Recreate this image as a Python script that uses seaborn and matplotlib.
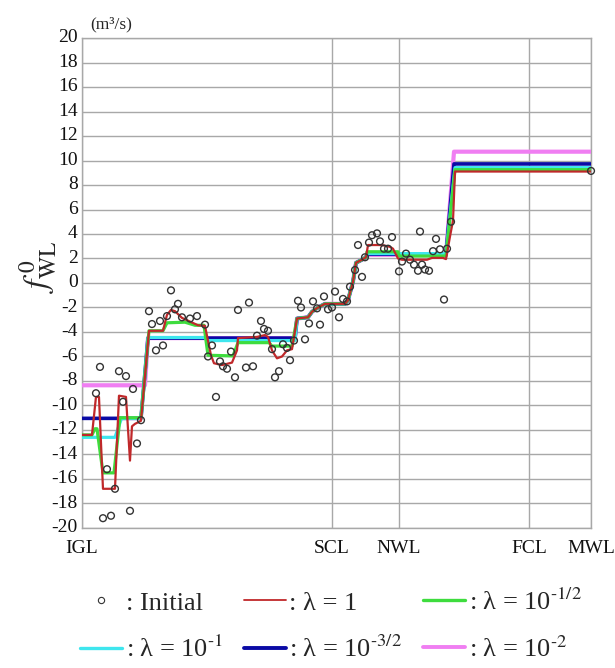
import numpy as np
import pandas as pd
import matplotlib
matplotlib.use("Agg")
import matplotlib.pyplot as plt
import matplotlib.transforms as mtransforms
from matplotlib.lines import Line2D
import seaborn as sns

# estações (distância ao longo do canal, unidade arbitrária)
stations = ["IGL", "SCL", "NWL", "FCL", "MWL"]
station_x = [0.0, 25.0, 31.7, 44.7, 50.9]

# pontos iniciais
init_x = [1.4, 1.8, 2.1, 2.5, 2.9, 3.3, 3.7, 4.1, 4.4, 4.8, 5.1, 5.5, 5.9, 6.7, 7.0,
          7.4, 7.8, 8.1, 8.5, 8.9, 9.3, 9.6, 10.0, 10.8, 11.5, 12.3, 12.6, 13.0, 13.4,
          13.8, 14.1, 14.5, 14.9, 15.3, 15.6, 16.4, 16.7, 17.1, 17.5, 17.9, 18.2, 18.6,
          19.0, 19.3, 19.7, 20.1, 20.5, 20.8, 21.2, 21.6, 21.9, 22.3, 22.7, 23.1, 23.5,
          23.8, 24.2, 24.6, 25.0, 25.3, 25.7, 26.1, 26.5, 26.8, 27.3, 27.6, 28.0, 28.3,
          28.7, 29.0, 29.5, 29.8, 30.2, 30.6, 31.0, 31.7, 32.0, 32.4, 32.8, 33.2, 33.6,
          33.8, 34.0, 34.3, 34.7, 35.1, 35.4, 35.8, 36.2, 36.5, 36.9, 50.9]
init_y = [-9.0, -6.85, -19.2, -15.2, -19.0, -16.8, -7.2, -9.7, -7.6, -18.6, -8.65, -13.1,
          -11.2, -2.3, -3.35, -5.5, -3.1, -5.1, -2.7, -0.6, -2.15, -1.7, -2.8, -2.9, -2.7,
          -3.4, -6.0, -5.1, -9.3, -6.4, -6.8, -7.0, -5.6, -7.7, -2.2, -6.9, -1.6, -6.8,
          -4.3, -3.1, -3.75, -3.9, -5.4, -7.7, -7.2, -5.0, -5.3, -6.3, -4.7, -1.45, -2.0,
          -4.6, -3.3, -1.5, -2.07, -3.4, -1.1, -2.15, -2.0, -0.7, -2.8, -1.3, -1.5, -0.3,
          1.06, 3.1, 0.5, 2.1, 3.3, 3.9, 4.05, 3.4, 2.8, 2.8, 3.75, 0.95, 1.75, 2.4, 1.9,
          1.5, 1.0, 4.2, 1.5, 1.1, 1.0, 2.6, 3.6, 2.75, -1.35, 2.8, 5.0, 9.15]

# trecho comum a todas as curvas
mid_x = [21.5, 22.6, 23.0, 23.5, 24.3, 26.3, 26.6, 27.1, 27.4, 28.0, 28.4]
mid_y = [-2.9, -2.8, -2.35, -2.05, -1.7, -1.7, -1.4, 0.1, 1.65, 1.9, 2.1]

# lambda = 1
red_head_x = [0, 1.0, 1.4, 1.7, 2.1, 3.3, 3.7, 4.4, 4.8, 5.0, 5.3, 5.9, 6.7, 8.1, 8.5,
              8.9, 9.3, 10.0, 10.8, 11.6, 12.3, 12.9, 13.2, 14.0, 15.0, 15.5, 15.6, 17.5,
              18.3, 18.6, 19.0, 19.5, 20.0, 20.5, 21.0]
red_head_y = [-12.4, -12.4, -9.3, -9.3, -16.8, -16.8, -9.2, -9.3, -14.5, -11.7, -11.5,
              -11.25, -3.9, -3.9, -2.6, -2.2, -2.3, -2.85, -3.15, -3.45, -3.5, -5.9, -6.55,
              -6.7, -6.5, -5.5, -4.5, -4.4, -4.25, -4.4, -5.5, -6.15, -6.0, -5.5, -5.4]
red_tail_x = [28.6, 30.0, 30.8, 31.1, 31.6, 32.0, 34.5, 35.0, 36.1, 36.4, 36.8, 37.1, 37.3, 50.9]
red_tail_y = [3.1, 3.1, 2.95, 2.8, 2.0, 1.9, 1.9, 2.05, 2.05, 1.95, 3.8, 5.1, 9.1, 9.1]

# lambda = 10^-1/2
green_head_x = [0, 1.0, 1.3, 1.5, 2.1, 3.2, 3.8, 5.9, 6.7, 8.1, 8.5, 10.3, 11.3, 12.2,
                12.6, 15.1, 15.6, 18.7, 19.0, 21.0]
green_head_y = [-12.4, -12.4, -11.9, -11.9, -15.5, -15.5, -11.0, -11.0, -3.9, -3.9, -3.25,
                -3.2, -3.45, -3.45, -5.9, -5.95, -4.87, -4.87, -5.15, -5.15]
green_tail_x = [28.5, 31.6, 31.7, 36.4, 37.3, 50.9]
green_tail_y = [2.55, 2.55, 2.2, 2.2, 9.25, 9.25]

# lambda = 10^-1
cyan_head_x = [0, 3.3, 3.95, 5.9, 6.6, 12.3, 12.5, 21.3]
cyan_head_y = [-12.6, -12.6, -11.05, -11.05, -4.45, -4.45, -4.7, -4.7]
cyan_tail_x = [28.5, 36.4, 37.3, 50.9]
cyan_tail_y = [2.4, 2.4, 9.42, 9.42]

# lambda = 10^-3/2
blue_head_x = [0, 5.9, 6.6, 21.3]
blue_head_y = [-11.05, -11.05, -4.5, -4.5]
blue_tail_x = [28.5, 36.4, 37.2, 50.9]
blue_tail_y = [2.35, 2.35, 9.72, 9.72]

# lambda = 10^-2
pink_head_x = [0, 6.3, 6.6, 21.3]
pink_head_y = [-8.35, -8.35, -4.5, -4.5]
pink_tail_x = [28.5, 36.4, 37.2, 50.9]
pink_tail_y = [2.3, 2.3, 10.72, 10.72]

cor_red, cor_green, cor_cyan = "#c0282a", "#3edc3e", "#3ee6ee"
cor_blue, cor_pink = "#0a0aa5", "#f07ef2"


def serie(hx, hy, tx, ty):
    return pd.DataFrame({"x": hx + mid_x + tx, "y": hy + mid_y + ty})


curvas = [
    (serie(pink_head_x, pink_head_y, pink_tail_x, pink_tail_y), cor_pink, 3.0),
    (serie(blue_head_x, blue_head_y, blue_tail_x, blue_tail_y), cor_blue, 2.6),
    (serie(cyan_head_x, cyan_head_y, cyan_tail_x, cyan_tail_y), cor_cyan, 2.3),
    (serie(green_head_x, green_head_y, green_tail_x, green_tail_y), cor_green, 2.3),
    (serie(red_head_x, red_head_y, red_tail_x, red_tail_y), cor_red, 1.6),
]

sns.set_theme(style="white")
plt.rcParams["font.family"] = ["Liberation Serif", "DejaVu Serif"]
plt.rcParams["mathtext.fontset"] = "stix"
plt.rcParams["axes.unicode_minus"] = False

fig = plt.figure(figsize=(6.15, 6.68), dpi=100)
ax = fig.add_axes([0.1333, 0.2096, 0.8277, 0.7335])

for df, cor, lw in curvas:
    sns.lineplot(data=df, x="x", y="y", sort=False, estimator=None, color=cor,
                 linewidth=lw, ax=ax, zorder=3)

pts = pd.DataFrame({"x": init_x, "y": init_y})
sns.scatterplot(data=pts, x="x", y="y", ax=ax, marker="o", s=24, facecolor="none",
                edgecolor="#333333", linewidth=1.0, zorder=5, clip_on=False)

ax.set_xlim(0, 50.9)
ax.set_ylim(-20, 20)
ax.set_yticks(range(-20, 21, 2))
ax.set_xticks(station_x)
ax.set_xticklabels(stations)
ax.grid(True, color="#a8a8a8", linewidth=1.0)
ax.set_axisbelow(True)
for s in ax.spines.values():
    s.set_color("#a8a8a8")
    s.set_linewidth(1.0)
ax.tick_params(axis="both", length=0, labelsize=14, colors="#111111")
ax.tick_params(axis="x", pad=9)
ax.tick_params(axis="y", pad=3)
ax.set_xlabel("")
ax.set_ylabel("")

desloc = mtransforms.ScaledTranslation(0, -3 / 72, fig.dpi_scale_trans)
for lbl in ax.get_yticklabels():
    lbl.set_va("baseline")
    lbl.set_transform(lbl.get_transform() + desloc)

fig.text(0.062, 0.60, r"$f^{\,0}_{\mathrm{WL}}$", rotation=90, fontsize=24,
         ha="center", va="center")
fig.text(0.146, 0.964, "(m\u00b3/s)", fontsize=12.5, ha="left", va="center")

h_init = Line2D([], [], linestyle="none", marker="o", markersize=4.5, markerfacecolor="none",
                markeredgecolor="#333333", markeredgewidth=0.8)
h_red = Line2D([], [], color=cor_red, linewidth=1.3)
h_green = Line2D([], [], color=cor_green, linewidth=2.4)
h_cyan = Line2D([], [], color=cor_cyan, linewidth=2.4)
h_blue = Line2D([], [], color=cor_blue, linewidth=2.8)
h_pink = Line2D([], [], color=cor_pink, linewidth=2.8)

handles = [h_init, h_cyan, h_red, h_blue, h_green, h_pink]
labels = [": Initial", r": λ = 10$^{\text{-}1}$", ": λ = 1", r": λ = 10$^{\text{-}3/2}$",
          r": λ = 10$^{\text{-}1/2}$", r": λ = 10$^{\text{-}2}$"]
fig.legend(handles, labels, ncol=3, loc="center", bbox_to_anchor=(0.538, 0.064),
           frameon=False, fontsize=19, handlelength=1.6, handletextpad=0.12,
           columnspacing=0.8, labelspacing=0.8)

fig.savefig("out.png", dpi=100)
